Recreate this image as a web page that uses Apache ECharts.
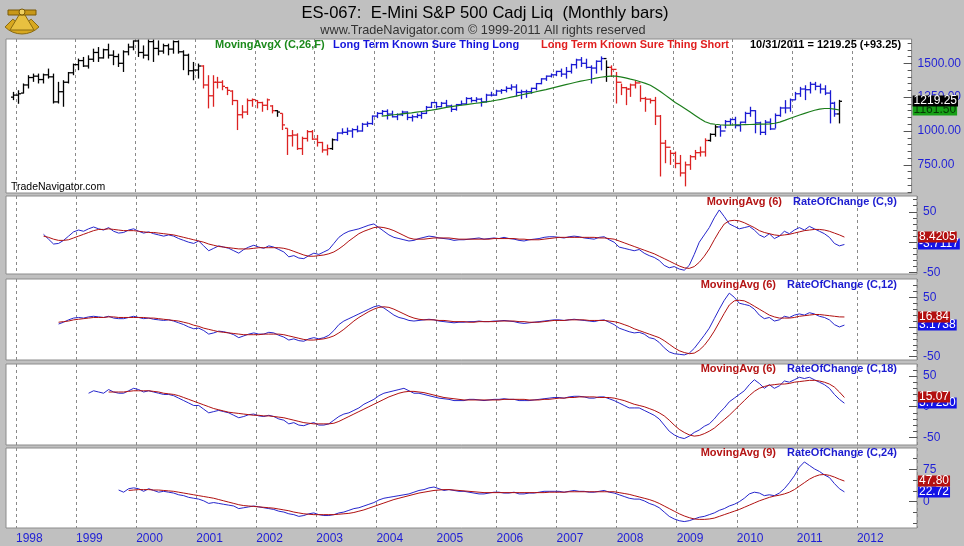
<!DOCTYPE html>
<html><head><meta charset="utf-8">
<script src="https://cdn.jsdelivr.net/npm/echarts@6/dist/echarts.min.js"></script>
<style>html,body{margin:0;padding:0;background:#c0c0c0;}#c{width:964px;height:546px;}</style>
</head><body><div id="c"></div>
<script>
// ---------------- DATA ----------------
const firstBar = '1997-12';
const openP = [1250,1265,1280,1340,1395,1405,1380,1415,1400,1215,1290,1360,1430,
1490,1520,1480,1530,1580,1540,1600,1560,1550,1500,1585,1620,
1665,1580,1560,1660,1610,1590,1630,1605,1660,1585,1560,1445,
1450,1480,1340,1260,1360,1360,1320,1295,1225,1120,1140,1225,
1225,1210,1190,1185,1150,1130,1020,965,970,870,945,995,
940,915,860,870,935,985,990,1000,1010,1000,1050,1055,
1110,1130,1145,1125,1105,1120,1140,1100,1105,1115,1130,1175,
1210,1180,1205,1185,1160,1195,1200,1240,1225,1235,1215,1265,
1265,1295,1300,1315,1325,1285,1290,1290,1315,1350,1385,1405,
1415,1440,1420,1440,1490,1525,1500,1470,1465,1515,1535,1470,
1455,1360,1320,1310,1340,1355,1240,1235,1225,1110,910,880,
835,760,690,750,810,840,845,930,975,1030,1000,1070,
1085,1040,1065,1130,1150,1060,990,1065,1015,1115,1170,1170,
1230,1275,1310,1305,1345,1330,1310,1280,1205,1126];
const highP = [1289,1301,1351,1412,1424,1424,1424,1461,1424,1363,1375,1436,1498,
1535,1547,1559,1608,1620,1608,1645,1596,1571,1596,1645,1669,
1675,1632,1675,1675,1669,1645,1645,1669,1669,1596,1571,1510,
1498,1486,1412,1412,1400,1375,1326,1301,1228,1191,1240,1240,
1228,1216,1240,1191,1154,1130,1020,1007,983,958,1007,1007,
971,920,900,945,990,1020,1025,1020,1040,1060,1070,1115,
1140,1155,1160,1150,1130,1150,1145,1120,1130,1145,1185,1215,
1215,1215,1230,1195,1200,1225,1250,1250,1250,1245,1275,1290,
1305,1310,1330,1345,1345,1305,1305,1320,1355,1390,1410,1425,
1445,1461,1473,1497,1534,1546,1534,1485,1522,1551,1522,1485,
1436,1350,1326,1350,1375,1338,1252,1240,1252,1118,934,860,
848,823,774,823,860,885,946,983,1044,1044,1081,1093,
1105,1069,1142,1179,1154,1069,1081,1093,1130,1179,1228,1240,
1289,1326,1338,1363,1363,1350,1338,1301,1216,1230];
const lowP = [1228,1201,1277,1314,1363,1351,1351,1387,1203,1203,1179,1351,1412,
1449,1473,1461,1510,1510,1535,1535,1486,1473,1436,1559,1596,
1547,1535,1522,1510,1559,1571,1559,1571,1571,1449,1412,1375,
1387,1314,1167,1179,1314,1301,1265,1191,1007,1093,1118,1179,
1167,1142,1154,1130,1105,1007,823,885,860,823,922,934,
885,840,820,860,925,975,970,950,990,995,1030,1045,
1095,1115,1085,1100,1080,1110,1080,1070,1095,1090,1125,1170,
1165,1175,1175,1140,1150,1190,1195,1210,1210,1180,1210,1255,
1260,1275,1285,1300,1255,1235,1245,1275,1300,1345,1370,1395,
1405,1400,1387,1424,1461,1473,1461,1350,1424,1448,1363,1399,
1203,1265,1191,1252,1314,1216,1142,1203,1044,664,762,750,
725,664,591,713,787,811,811,921,958,958,1019,1044,
1019,995,1056,1105,983,970,970,1007,1019,1105,1130,1142,
1228,1252,1228,1277,1301,1277,1265,1056,1105,1056];
const closeP = [1265,1275,1340,1395,1405,1380,1415,1400,1215,1290,1360,1430,1490,
1520,1480,1530,1580,1540,1600,1560,1550,1500,1585,1620,1665,
1580,1560,1660,1610,1590,1630,1605,1660,1585,1560,1445,1450,
1480,1340,1260,1360,1360,1330,1300,1225,1120,1140,1225,1232,
1210,1190,1230,1150,1140,1045,965,970,870,945,995,940,
915,860,870,935,985,990,1000,1010,1000,1050,1055,1110,
1130,1145,1125,1105,1120,1140,1100,1105,1115,1130,1175,1210,
1180,1205,1185,1160,1195,1200,1240,1225,1235,1215,1265,1265,
1295,1300,1315,1325,1285,1290,1290,1315,1350,1385,1405,1415,
1440,1420,1440,1490,1525,1500,1470,1465,1515,1535,1470,1455,
1360,1320,1310,1340,1355,1240,1235,1225,1110,910,880,835,
760,690,750,810,840,845,930,975,1030,1000,1070,1085,
1040,1065,1130,1150,1060,990,1065,1015,1115,1170,1170,1230,
1275,1310,1305,1345,1330,1310,1280,1205,1126,1219.25];
// 0 = neutral (black), 1 = Long (blue), 2 = Short (red)
const barState = [0,0,0,0,0,0,0,0,0,0,0,0,0,
0,0,0,0,0,0,0,0,0,0,0,0,
0,0,0,0,0,0,0,0,0,0,0,0,
0,2,2,2,2,2,2,2,2,2,2,2,
2,2,2,2,0,2,2,2,2,2,2,2,
2,2,2,0,1,1,1,1,1,1,1,1,
1,1,1,1,1,1,1,1,1,1,1,1,
1,1,1,1,1,1,1,1,1,1,1,1,
1,1,1,1,1,1,1,1,1,1,1,1,
1,1,1,1,1,1,1,1,1,1,0,2,
2,2,2,2,2,2,2,2,2,2,2,2,
2,2,2,2,2,2,2,0,0,1,1,1,
1,1,1,1,1,1,1,1,1,1,1,1,
1,1,1,1,1,1,1,1,1,0];

const ma26Start = '2004-02';
const ma26 = [1110,1114,1118,1122,1126,1130,1134,1139,1144,1149,1154,
1160,1167,1175,1180,1185,1190,1195,1200,1205,1210,1215,1220,
1227,1234,1242,1250,1258,1266,1274,1282,1290,1298,1306,1315,
1324,1333,1342,1351,1360,1368,1375,1382,1390,1397,1402,1405,
1405,1400,1392,1383,1375,1364,1352,1338,1316,1292,1265,1238,
1210,1188,1165,1140,1115,1090,1068,1055,1050,1046,1044,1044,
1045,1046,1047,1048,1049,1050,1051,1053,1057,1066,1078,1092,
1105,1118,1130,1142,1153,1161,1166,1166,1161,1155];

const roc9Start = '1998-06';
const roc9 = [13,5,-3,-2,3,10,17,
20,18,22,25,22,20,24,18,15,16,20,22,
18,15,17,14,12,10,12,10,6,3,0,-2,
2,-6,-14,-10,-6,-8,-10,-14,-18,-12,-8,-5,
-8,-10,-6,-8,-12,-16,-24,-22,-26,-27,-22,-18,
-20,-16,-12,-2,8,14,18,20,22,25,28,30,
24,18,12,8,6,4,2,3,6,8,10,9,
7,6,5,3,4,4,5,6,7,5,6,7,
6,8,6,5,3,2,4,5,6,8,9,9,
8,7,9,10,9,7,6,5,8,9,4,0,
-8,-10,-12,-14,-12,-18,-22,-25,-30,-38,-42,-40,
-44,-46,-38,-20,0,12,24,40,53,42,30,26,
22,24,26,20,12,8,14,6,10,18,14,20,
24,20,26,22,18,14,8,-2,-6,-3.7117];
const roc9MaStart = '1998-06';
const roc9Ma = [10,8,5,3,3,4,7,
10,13,16,19,21,21,22,21,20,19,19,19,
18,17,16,16,15,14,13,12,10,8,6,4,
2,0,-3,-5,-7,-8,-9,-10,-11,-11,-11,-10,
-9,-9,-9,-9,-9,-10,-12,-15,-18,-21,-23,-23,
-22,-21,-19,-16,-11,-5,2,8,14,18,21,24,
25,24,22,19,15,11,7,5,5,5,6,7,
7,7,7,6,5,5,5,5,5,5,5,6,
6,6,6,6,5,5,4,4,4,5,6,7,
8,8,8,8,8,8,8,8,7,7,6,5,
2,-1,-4,-7,-10,-13,-16,-19,-23,-27,-31,-35,
-39,-42,-43,-40,-33,-23,-11,4,18,30,35,36,
35,32,28,24,19,16,14,12,11,12,13,15,
17,19,20,21,21,20,18,15,12,8.4205];

const roc12Start = '1998-09';
const roc12 = [5,8,12,15,
16,15,17,18,17,16,18,15,14,14,16,18,
16,14,15,13,12,11,12,10,7,4,0,-3,
-2,-6,-12,-10,-7,-8,-10,-13,-18,-15,-12,-10,
-12,-12,-9,-10,-14,-17,-22,-20,-23,-24,-20,-18,
-20,-18,-14,-6,4,10,14,18,22,26,30,34,
36,32,26,20,16,14,11,10,11,12,13,12,
10,9,8,7,8,8,9,9,10,9,9,10,
10,11,10,9,7,6,7,8,9,10,11,12,
12,11,12,13,12,11,10,9,11,12,8,4,
-2,-5,-8,-10,-9,-12,-18,-20,-26,-35,-42,-45,
-46,-47,-44,-36,-25,-14,-2,14,30,45,57,50,
40,38,36,30,20,14,16,10,12,18,16,20,
22,20,24,22,18,16,12,4,0,3.1738];
const roc12MaStart = '1998-09';
const roc12Ma = [8,9,10,12,
13,14,15,16,16,16,17,17,16,16,16,16,
16,16,15,15,14,13,12,11,10,8,6,3,
1,-2,-4,-6,-8,-9,-10,-11,-12,-13,-13,-13,
-13,-12,-12,-12,-12,-13,-15,-17,-19,-21,-22,-22,
-21,-20,-18,-15,-10,-4,3,10,16,21,26,30,
33,34,33,30,26,22,18,15,13,12,12,12,
11,11,10,9,9,9,8,8,9,9,9,9,
10,10,10,10,9,9,8,8,8,9,10,11,
11,11,12,12,12,12,11,11,11,11,10,9,
7,4,1,-3,-6,-9,-12,-15,-18,-23,-29,-35,
-40,-43,-45,-44,-39,-31,-20,-7,8,23,37,44,
45,44,40,35,30,25,20,17,15,15,15,16,
18,19,20,21,21,20,19,18,17,16.84];

const roc18Start = '1999-03';
const roc18 = [22,26,24,22,28,24,22,22,26,30,
28,24,26,24,22,20,20,18,14,10,6,2,
2,-4,-10,-8,-6,-8,-10,-14,-18,-16,-13,-12,
-15,-16,-14,-16,-20,-22,-28,-26,-30,-31,-28,-26,
-30,-30,-28,-22,-16,-12,-10,-6,-2,4,8,12,
18,22,24,26,28,30,26,22,22,20,18,16,
14,13,12,10,10,10,12,12,11,10,11,12,
12,13,12,12,10,10,10,11,12,13,14,15,
15,14,16,17,17,16,14,14,16,16,13,10,
6,2,-2,-2,-2,-6,-10,-14,-20,-30,-40,-46,
-50,-52,-48,-42,-38,-32,-28,-20,-10,-2,8,14,
20,26,36,44,38,30,36,30,34,42,40,44,
48,46,48,44,40,36,30,20,12,5.725];
const roc18MaStart = '1999-07';
const roc18Ma = [24,24,24,24,25,26,
26,26,26,25,24,22,21,20,18,15,12,9,
6,3,0,-3,-5,-7,-9,-10,-11,-12,-13,-14,
-14,-15,-15,-16,-17,-18,-20,-22,-24,-26,-27,-28,
-28,-28,-28,-27,-24,-20,-16,-12,-8,-4,0,4,
8,12,16,19,22,24,25,25,24,23,21,19,
17,15,14,13,12,11,11,11,11,11,11,11,
11,12,12,12,12,12,11,11,11,12,12,13,
14,14,15,15,16,16,16,16,15,15,15,14,
12,10,7,4,2,0,-3,-6,-10,-15,-22,-30,
-37,-42,-46,-48,-47,-44,-40,-35,-28,-21,-14,-6,
2,10,18,25,30,33,35,36,37,37,38,40,
41,42,43,43,42,40,37,32,24,15.07];

const roc24Start = '1999-09';
const roc24 = [27,22,30,32,
30,24,30,26,22,24,22,20,16,14,10,8,
6,2,-4,-2,-4,-6,-8,-10,-16,-14,-12,-10,
-12,-14,-16,-18,-22,-24,-28,-30,-34,-32,-28,-26,
-30,-32,-32,-30,-26,-24,-20,-16,-14,-10,-6,-2,
4,8,10,12,14,16,18,22,26,28,32,34,
30,26,28,26,24,24,22,20,18,18,20,22,
22,20,20,22,18,18,20,20,22,24,24,24,
24,22,24,26,24,24,22,22,24,26,22,20,
16,12,8,6,6,2,-4,-8,-14,-24,-34,-40,
-44,-46,-44,-40,-36,-34,-30,-26,-20,-16,-10,-6,
0,8,18,22,20,14,16,14,20,30,44,60,
80,92,84,76,70,62,56,42,30,22.72];
const roc24MaStart = '1999-11';
const roc24Ma = [26,27,
28,28,28,27,27,26,25,24,22,20,18,16,
14,12,10,8,5,2,-1,-4,-7,-9,-10,-11,
-12,-13,-14,-15,-17,-19,-21,-24,-26,-28,-29,-30,
-30,-30,-30,-30,-29,-28,-27,-25,-22,-19,-15,-11,
-7,-3,1,5,8,11,14,17,20,22,24,26,
27,28,28,27,26,25,24,23,22,21,21,21,
21,21,21,21,21,21,21,21,21,21,22,22,
22,22,23,23,23,23,23,23,23,23,23,23,
21,19,17,14,11,8,5,1,-4,-10,-16,-22,
-28,-33,-37,-40,-41,-41,-40,-38,-34,-30,-26,-22,
-18,-13,-8,-3,2,6,10,13,15,18,22,28,
36,44,52,58,62,63,61,57,52,47.8];

const yearLabels = ['1998','1999','2000','2001','2002','2003','2004','2005','2006','2007','2008','2009','2010','2011','2012'];
const priceLabels = [750,1000,1250,1500];
const priceMinor = [550,600,650,700,750,800,850,900,950,1000,1050,1100,1150,1200,1250,1300,1350,1400,1450,1500,1550,1600,1650];
const rocLabels = [-50,0,50];
const rocMinor = [-50,-40,-30,-20,-10,0,10,20,30,40,50,60,70];
const roc24Labels = [0,75];
const roc24Minor = [-50,-25,0,25,50,75,100];

// ---------------- BUILD ----------------
const FONT = '"Liberation Sans", Arial, sans-serif';
const BLUE_AX = '#1f1fd6';
const BAR_COL = ['#000000', '#1a1ad2', '#dc2222'];
const GREEN = '#1b7d1b';
const ROC_BLUE = '#2626cc';
const MA_RED = '#b01010';

const months = [];
(function(){ let y = 1997, m = 11; while (y < 2013) { months.push(y + '-' + String(m).padStart(2,'0')); m++; if (m > 12) { m = 1; y++; } } })();
const idxOf = ym => months.indexOf(ym);
const pairs = (start, arr) => { const s = idxOf(start); return arr.map((v, i) => [s + i, v]); };

const b0 = idxOf(firstBar);
const ohlc = openP.map((o, i) => [b0 + i, o, highP[i], lowP[i], closeP[i], barState[i]]);
const lastIdx = b0 + openP.length - 1;

function renderOHLC(params, api) {
  const i = api.value(0);
  const o = api.coord([i, api.value(1)]), h = api.coord([i, api.value(2)]);
  const l = api.coord([i, api.value(3)]), c = api.coord([i, api.value(4)]);
  const x = Math.round(h[0]) + 0.5;
  const st = { stroke: BAR_COL[api.value(5)], lineWidth: 1.3 };
  return { type: 'group', children: [
    { type: 'line', shape: { x1: x, y1: h[1], x2: x, y2: l[1] }, style: st },
    { type: 'line', shape: { x1: x - 2.5, y1: o[1], x2: x, y2: o[1] }, style: st },
    { type: 'line', shape: { x1: x, y1: c[1], x2: x + 2.5, y2: c[1] }, style: st }
  ]};
}

function boxSeries(k, items) {
  return {
    type: 'custom', xAxisIndex: k, yAxisIndex: 2 * k, clip: false, z: 30, silent: true,
    data: items.map((it, j) => [lastIdx, it.value, j]),
    renderItem(params, api) {
      const it = items[api.value(2)];
      const p = api.coord([api.value(0), api.value(1)]);
      const cs = params.coordSys;
      return { type: 'text', x: cs.x + cs.width + 1, y: Math.round(p[1]),
        style: { text: it.text, fill: it.fg, backgroundColor: it.bg, font: '12px ' + FONT,
          align: 'left', verticalAlign: 'middle', padding: [0, 1, 0, 1], lineHeight: 11 } };
    }
  };
}

const panels = [
  { top: 39, height: 154, min: 542, max: 1679.5 },
  { top: 196, height: 78, min: -52.2, max: 75.9 },
  { top: 279, height: 81, min: -55.6, max: 80.8 },
  { top: 364, height: 81, min: -62.5, max: 69.7 },
  { top: 448, height: 80, min: -60.9, max: 124.3 }
];
const labelSets = [priceLabels, rocLabels, rocLabels, rocLabels, roc24Labels];
const minorSets = [priceMinor, rocMinor, rocMinor, rocMinor, roc24Minor];

const grids = panels.map(p => ({ left: 6, width: 911, top: p.top, height: p.height, show: true,
  backgroundColor: '#ffffff', borderColor: '#8c8c8c', borderWidth: 1 }));

const xAxes = panels.map((p, k) => ({
  type: 'category', gridIndex: k, data: months, boundaryGap: true,
  axisLine: { show: false, onZero: false }, axisTick: { show: false }, axisLabel: { show: false },
  splitLine: { show: true, interval: (i, v) => v.endsWith('-01'),
    lineStyle: { color: '#8a8a8a', type: [3, 3], width: 1 } }
}));
xAxes.push({
  type: 'value', gridIndex: 4, min: 0, max: months.length, position: 'bottom',
  axisLine: { show: false, onZero: false }, axisTick: { show: false }, splitLine: { show: false },
  axisLabel: { show: true, customValues: yearLabels.map(y => idxOf(y + '-01')),
    formatter: v => months[v].slice(0, 4), color: BLUE_AX, fontSize: 12, fontFamily: FONT,
    align: 'left', margin: 5 }
});

const yAxes = [];
panels.forEach((p, k) => {
  const fmt = k === 0 ? (v => v.toFixed(2)) : (v => String(v));
  yAxes.push({ type: 'value', gridIndex: k, position: 'right', min: p.min, max: p.max,
    splitLine: { show: false }, axisLine: { show: false, onZero: false },
    axisTick: { show: true, inside: true, length: 8, customValues: labelSets[k], lineStyle: { color: '#555' } },
    axisLabel: { show: true, customValues: labelSets[k], formatter: fmt, color: BLUE_AX, fontSize: 12, fontFamily: FONT, margin: 6 } });
  yAxes.push({ type: 'value', gridIndex: k, position: 'right', min: p.min, max: p.max,
    splitLine: { show: false }, axisLine: { show: false, onZero: false },
    axisTick: { show: true, inside: true, length: 4, customValues: minorSets[k], lineStyle: { color: '#555' } },
    axisLabel: { show: false } });
});

const series = [
  { type: 'custom', name: 'ES', xAxisIndex: 0, yAxisIndex: 0, renderItem: renderOHLC, data: ohlc,
    encode: { x: 0, y: [1, 2, 3, 4] }, z: 3, silent: true },
  { type: 'line', xAxisIndex: 0, yAxisIndex: 0, data: pairs(ma26Start, ma26), symbol: 'none',
    lineStyle: { color: GREEN, width: 1.2 }, z: 4, silent: true },
  boxSeries(0, [
    { value: ma26[ma26.length - 1], text: '1161.50', bg: '#17a017', fg: '#063806' },
    { value: closeP[closeP.length - 1], text: closeP[closeP.length - 1].toFixed(2), bg: '#000000', fg: '#ffffff' }
  ])
];
const rocSets = [
  [roc9Start, roc9, roc9MaStart, roc9Ma, 4, 4],
  [roc12Start, roc12, roc12MaStart, roc12Ma, 4, 2],
  [roc18Start, roc18, roc18MaStart, roc18Ma, 4, 2],
  [roc24Start, roc24, roc24MaStart, roc24Ma, 2, 2]
];
rocSets.forEach((s, j) => {
  const k = j + 1;
  series.push({ type: 'line', xAxisIndex: k, yAxisIndex: 2 * k, data: pairs(s[0], s[1]), symbol: 'none',
    lineStyle: { color: ROC_BLUE, width: 1 }, z: 3, silent: true });
  series.push({ type: 'line', xAxisIndex: k, yAxisIndex: 2 * k, data: pairs(s[2], s[3]), symbol: 'none',
    lineStyle: { color: MA_RED, width: 1 }, z: 4, silent: true });
  const rl = s[1][s[1].length - 1], ml = s[3][s[3].length - 1];
  series.push(boxSeries(k, [
    { value: rl, text: rl.toFixed(s[4]), bg: '#1212e6', fg: '#ffffff' },
    { value: ml, text: ml.toFixed(s[5]), bg: '#b31010', fg: '#ffffff' }
  ]));
});

function txt(x, y, text, font, fill, align) {
  return { type: 'text', x, y, silent: true, z: 50,
    style: { text, font, fill, align: align || 'left', textAlign: align || 'left', verticalAlign: 'middle', textVerticalAlign: 'middle' } };
}
const B11 = 'bold 11px ' + FONT;
const graphic = [
  // logo
  { type: 'group', x: 4, y: 2, silent: true, children: [
    { type: 'sector', shape: { cx: 18, cy: 8, r: 24, r0: 13, startAngle: Math.PI * 0.25, endAngle: Math.PI * 0.75 },
      style: { fill: '#d8a820', stroke: '#8a6a10', lineWidth: 1 } },
    { type: 'polygon', shape: { points: [[18, 8], [6, 28], [30, 28]] }, style: { fill: '#e8c040', stroke: '#8a6a10', lineWidth: 1 } },
    { type: 'rect', shape: { x: 4, y: 8, width: 28, height: 5 }, style: { fill: '#c89818', stroke: '#7a5a08', lineWidth: 1 } },
    { type: 'circle', shape: { cx: 18, cy: 10, r: 3 }, style: { fill: '#f0d060', stroke: '#7a5a08' } }
  ]},
  txt(485, 13, 'ES-067:  E-Mini S&P 500 Cadj Liq  (Monthly bars)', '16.6px ' + FONT, '#000000', 'center'),
  txt(483, 30, 'www.TradeNavigator.com \u00A9 1999-2011 All rights reserved', '12.7px ' + FONT, '#333333', 'center'),
  txt(215, 45, 'MovingAvgX (C,26,F)', B11, '#1c8a1c'),
  txt(333, 45, 'Long Term Known Sure Thing Long', B11, '#1414dc'),
  txt(541, 45, 'Long Term Known Sure Thing Short', B11, '#e01e1e'),
  txt(750, 45, '10/31/2011 = 1219.25 (+93.25)', B11, '#000000'),
  txt(11, 187, 'TradeNavigator.com', '10.5px ' + FONT, '#000000'),
  txt(782, 202, 'MovingAvg (6)', B11, '#b41414', 'right'),
  txt(793, 202, 'RateOfChange (C,9)', B11, '#1c1cd0'),
  txt(776, 285, 'MovingAvg (6)', B11, '#b41414', 'right'),
  txt(787, 285, 'RateOfChange (C,12)', B11, '#1c1cd0'),
  txt(776, 369, 'MovingAvg (6)', B11, '#b41414', 'right'),
  txt(787, 369, 'RateOfChange (C,18)', B11, '#1c1cd0'),
  txt(776, 453, 'MovingAvg (9)', B11, '#b41414', 'right'),
  txt(787, 453, 'RateOfChange (C,24)', B11, '#1c1cd0')
];

const chart = echarts.init(document.getElementById('c'), null, { renderer: 'canvas' });
chart.setOption({
  backgroundColor: '#c0c0c0',
  animation: false,
  grid: grids, xAxis: xAxes, yAxis: yAxes, series, graphic
});
</script></body></html>
